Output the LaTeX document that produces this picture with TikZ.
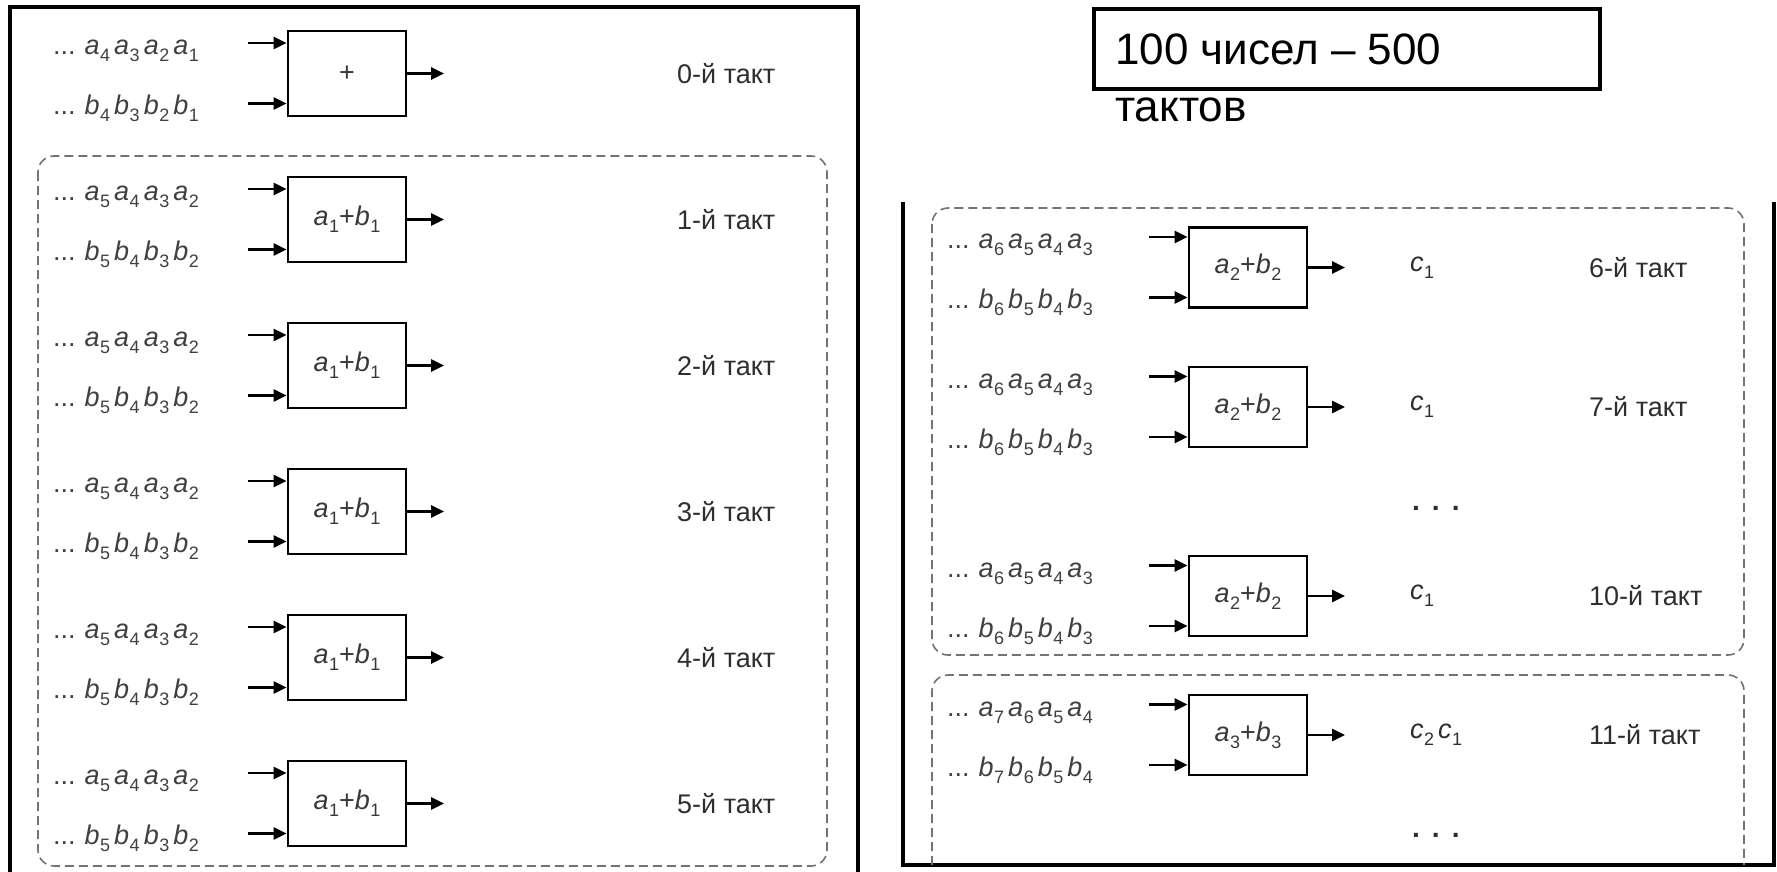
\documentclass[tikz,border=0pt]{standalone}
\usepackage{fontspec}
\setmainfont{Liberation Sans}
\usetikzlibrary{arrows.meta}

\newcommand\vv[2]{\textit{#1}\kern0.5pt\raisebox{-7pt}{\fontsize{18}{18}\selectfont #2}}
\newcommand\sq[5]{...\hspace{9pt}\vv{#1}{#2}\hspace{4pt}\vv{#1}{#3}\hspace{4pt}\vv{#1}{#4}\hspace{4pt}\vv{#1}{#5}}

\tikzset{
  seq/.style={anchor=base west, inner sep=0pt, font=\fontsize{27}{30}\selectfont, text=black!75},
  lbl/.style={anchor=west, inner sep=0pt, font=\fontsize{27}{30}\selectfont, text=black!82},
  adder/.style={draw, line width=2.8pt, minimum width=118pt, inner sep=0pt, font=\fontsize{27}{30}\selectfont, text=black!78},
  arr/.style={line width=2.8pt, -{Triangle[length=13pt,width=12pt]}},
  grp/.style={draw=black!55, line width=1.6pt, dash pattern=on 9pt off 5pt, rounded corners=16pt},
  frame/.style={line width=3.4pt},
  ttl/.style={anchor=base west, inner sep=0pt, font=\fontsize{44}{48}\selectfont},
}

\newcommand\stage[8]{%
  \node[adder, minimum height=#8] (box#1) at (#3,#4) {#7};
  \node[seq] (sa#1) at (#2,#4-19) {#5};
  \node[seq] (sb#1) at (#2,#4+41) {#6};
  \coordinate (ia#1) at (#3-99,#4-30.5);
  \coordinate (ib#1) at (#3-99,#4+30);
  \coordinate (out#1) at (#3+97,#4);
  \draw[arr] (ia#1) -- (box#1.west|-ia#1);
  \draw[arr] (ib#1) -- (box#1.west|-ib#1);
  \draw[arr] (box#1.east) -- (out#1);
}

\begin{document}
\begin{tikzpicture}[x=1pt,y=-1pt]
\useasboundingbox (0,0) rectangle (1777,872);

% ---------- left panel ----------
\draw[frame] (10,872) -- (10,7) -- (858,7) -- (858,872);
\draw[grp] (38,156) rectangle (827,866);

\stage{0}{53}{347}{73.5}{\sq{a}{4}{3}{2}{1}}{\sq{b}{4}{3}{2}{1}}{+}{85pt}
\node[lbl] (t0) at (677,73.5) {0-й такт};

\stage{1}{53}{347}{219.5}{\sq{a}{5}{4}{3}{2}}{\sq{b}{5}{4}{3}{2}}{\vv{a}{1}+\vv{b}{1}}{85pt}
\node[lbl] (t1) at (677,219.5) {1-й такт};
\stage{2}{53}{347}{365.5}{\sq{a}{5}{4}{3}{2}}{\sq{b}{5}{4}{3}{2}}{\vv{a}{1}+\vv{b}{1}}{85pt}
\node[lbl] (t2) at (677,365.5) {2-й такт};
\stage{3}{53}{347}{511.5}{\sq{a}{5}{4}{3}{2}}{\sq{b}{5}{4}{3}{2}}{\vv{a}{1}+\vv{b}{1}}{85pt}
\node[lbl] (t3) at (677,511.5) {3-й такт};
\stage{4}{53}{347}{657.5}{\sq{a}{5}{4}{3}{2}}{\sq{b}{5}{4}{3}{2}}{\vv{a}{1}+\vv{b}{1}}{85pt}
\node[lbl] (t4) at (677,657.5) {4-й такт};
\stage{5}{53}{347}{803.5}{\sq{a}{5}{4}{3}{2}}{\sq{b}{5}{4}{3}{2}}{\vv{a}{1}+\vv{b}{1}}{85pt}
\node[lbl] (t5) at (677,803.5) {5-й такт};

% ---------- title ----------
\node[draw, line width=4pt, minimum width=506pt, minimum height=80pt, inner sep=0pt] (title) at (1347,49) {};
\node[ttl] (tt1) at (1115,65) {100 чисел – 500};
\node[ttl] (tt2) at (1115,122) {тактов};

% ---------- right panel ----------
\draw[frame] (903,202) -- (903,865) -- (1774,865) -- (1774,202);
\draw[grp] (932,208) rectangle (1744,655);
\draw[grp] (932,865) -- (932,675) -- (1744,675) -- (1744,865);

\stage{6}{947}{1248}{267.5}{\sq{a}{6}{5}{4}{3}}{\sq{b}{6}{5}{4}{3}}{\vv{a}{2}+\vv{b}{2}}{80pt}
\node[lbl] (c6) at (1410,267.5) {\vv{c}{1}};
\node[lbl] (t6) at (1589,267.5) {6-й такт};

\stage{7}{947}{1248}{407}{\sq{a}{6}{5}{4}{3}}{\sq{b}{6}{5}{4}{3}}{\vv{a}{2}+\vv{b}{2}}{80pt}
\node[lbl] (c7) at (1410,407) {\vv{c}{1}};
\node[lbl] (t7) at (1589,407) {7-й такт};

\node[lbl, font=\fontsize{28}{30}\selectfont\bfseries] (dots1) at (1412,508) {.\hspace{12pt}.\hspace{12pt}.};

\stage{10}{947}{1248}{596}{\sq{a}{6}{5}{4}{3}}{\sq{b}{6}{5}{4}{3}}{\vv{a}{2}+\vv{b}{2}}{80pt}
\node[lbl] (c10) at (1410,596) {\vv{c}{1}};
\node[lbl] (t10) at (1589,596) {10-й такт};

\stage{11}{947}{1248}{735}{\sq{a}{7}{6}{5}{4}}{\sq{b}{7}{6}{5}{4}}{\vv{a}{3}+\vv{b}{3}}{80pt}
\node[lbl] (c11) at (1410,735) {\vv{c}{2}\hspace{4pt}\vv{c}{1}};
\node[lbl] (t11) at (1589,735) {11-й такт};

\node[lbl, font=\fontsize{28}{30}\selectfont\bfseries] (dots2) at (1412,835) {.\hspace{12pt}.\hspace{12pt}.};
\end{tikzpicture}
\end{document}
